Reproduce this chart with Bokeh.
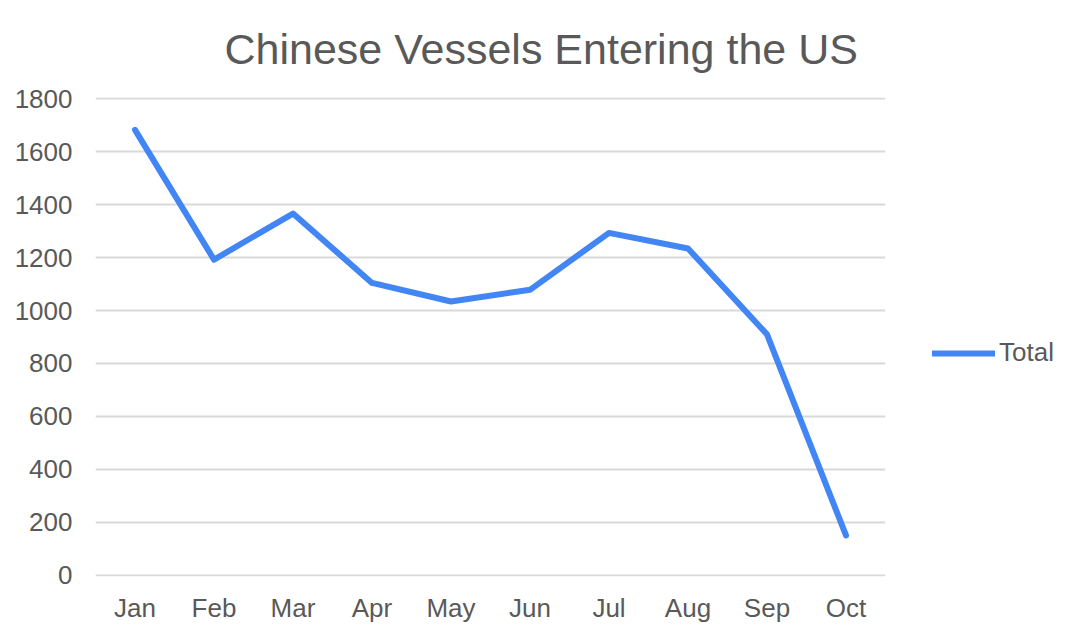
from bokeh.plotting import figure
from bokeh.models import Range1d, Legend, LegendItem, Title, SingleIntervalTicker
from bokeh.embed import file_html
from bokeh.resources import INLINE

months = ["Jan", "Feb", "Mar", "Apr", "May", "Jun", "Jul", "Aug", "Sep", "Oct"]
total = [1682, 1192, 1366, 1104, 1034, 1078, 1293, 1234, 910, 151]
title_text = "Chinese Vessels Entering the US"

FONT = "Liberation Sans"
GREY = "#595959"

p = figure(x_range=months, y_range=Range1d(-4, 1804),
           width=1064, height=625, frame_width=790, frame_height=479,
           output_backend="svg", toolbar_location=None,
           min_border_left=95, min_border_top=97, min_border_right=10, min_border_bottom=10)

t = Title(text=title_text, align="left", offset=129, vertical_align="top",
          text_font=FONT, text_font_size="43px", text_color=GREY,
          text_font_style="normal", standoff=46, text_line_height=0.9)
p.add_layout(t, "above")

r = p.line(months, total, line_color="#4285F4", line_width=6,
           line_join="round", line_cap="round")

p.outline_line_color = None
p.background_fill_color = "white"
p.border_fill_color = "white"

p.yaxis.ticker = SingleIntervalTicker(interval=200)
for ax in (p.xaxis, p.yaxis):
    ax.axis_line_color = None
    ax.major_tick_line_color = None
    ax.minor_tick_line_color = None
    ax.major_label_text_font = FONT
    ax.major_label_text_font_size = "26px"
    ax.major_label_text_color = GREY
p.yaxis.major_label_standoff = 17
p.xaxis.major_label_standoff = 10

p.xgrid.grid_line_color = None
p.ygrid.grid_line_color = "#d9d9d9"
p.ygrid.grid_line_width = 2

legend = Legend(items=[LegendItem(label="Total", renderers=[r])],
                location=(47, 208), border_line_color=None,
                background_fill_alpha=0, glyph_width=63, glyph_height=20,
                label_text_font=FONT, label_text_font_size="26px",
                label_text_color=GREY, label_standoff=4, padding=0, margin=0)
p.add_layout(legend, "right")

open("out.html", "w").write(file_html(p, INLINE))
